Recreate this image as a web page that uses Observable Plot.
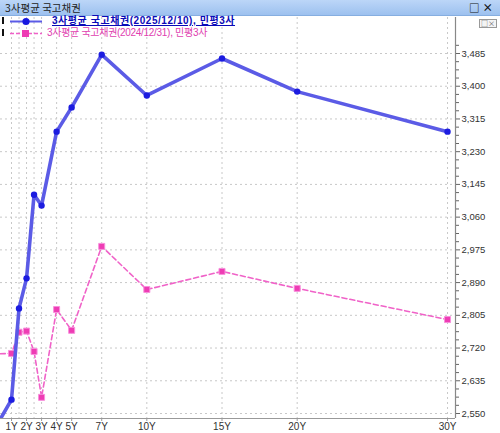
<!DOCTYPE html>
<html><head><meta charset="utf-8">
<script src="https://cdn.jsdelivr.net/npm/d3@7"></script>
<script src="https://cdn.jsdelivr.net/npm/@observablehq/plot@0.6"></script>
<style>
html,body{margin:0;padding:0;background:#fff;}
body{width:500px;height:433px;overflow:hidden;position:relative;font-family:"Noto Sans CJK KR","Noto Sans",sans-serif;}
#bar{position:absolute;left:0;top:0;width:500px;height:15px;background:linear-gradient(#bcd6f8,#9dc1ef);border-bottom:1px solid #86aee0;font-size:10.5px;line-height:15px;color:#222;overflow:hidden;}
#bar .t{position:absolute;left:5px;top:0;}
#bar .ic{position:absolute;right:4px;top:0;font-size:10.5px;line-height:15px;font-weight:bold;color:#111;letter-spacing:3px;}
#chart{position:absolute;left:0;top:17px;}
.leg{position:absolute;left:0;height:10px;font-size:10px;line-height:10px;white-space:nowrap;font-family:"Liberation Sans","Noto Sans CJK KR",sans-serif;}
.leg .b{position:absolute;left:2px;top:1px;width:2px;height:7px;background:#111;}
.leg svg{position:absolute;left:8px;top:-0.5px;}
.leg .tx{position:absolute;top:0;line-height:10px;height:10px;}
#mini{position:absolute;right:3px;top:19px;font-size:7px;line-height:7px;color:#555;border:1px solid #999;padding:0 1px;background:#f4f4f4;}
</style></head>
<body>
<div id="bar"><span class="t">3사평균 국고채권</span><span class="ic">□×</span></div>
<div id="chart"></div>
<div id="mini">□×</div>
<div class="leg" style="top:16px">
  <span class="b"></span>
  <svg width="36" height="11"><line x1="2" y1="5.5" x2="34" y2="5.5" stroke="#5b5be6" stroke-width="2"/><circle cx="18" cy="5.5" r="3.6" fill="#1818e0"/></svg>
  <span class="tx" style="left:52px;color:#0a0ab8;font-weight:bold;text-decoration:underline;letter-spacing:0.55px;">3사평균 국고채권(2025/12/10), 민평3사</span>
</div>
<div class="leg" style="top:28px">
  <span class="b"></span>
  <svg width="36" height="11"><line x1="2" y1="5.5" x2="34" y2="5.5" stroke="#f060c8" stroke-width="1.5" stroke-dasharray="4,2"/><rect x="14" y="2" width="7" height="7" fill="#ee3cb4"/></svg>
  <span class="tx" style="left:47px;color:#e040b0;letter-spacing:-0.3px;">3사평균 국고채권(2024/12/31), 민평3사</span>
</div>
<script>
// Tenors (years)
const tenors = [0.25, 1, 1.5, 2, 2.5, 3, 4, 5, 7, 10, 15, 20, 30];
// 3사평균 국고채권(2025/12/10)
const seriesNow = [2535, 2586, 2823, 2901, 3118, 3090, 3282, 3345, 3482, 3376, 3472, 3386, 3282];
// 3사평균 국고채권(2024/12/31)
const seriesPrev = [2705, 2706, 2761, 2764, 2711, 2592, 2820, 2766, 2984, 2872, 2919, 2875, 2794];
// Axis ticks
const xTickValues = [1, 2, 3, 4, 5, 7, 10, 15, 20, 30];
const xTickLabels = ["1Y", "2Y", "3Y", "4Y", "5Y", "7Y", "10Y", "15Y", "20Y", "30Y"];
const gridX = [1, 1.5, 2, 2.5, 3, 4, 5, 7, 10, 15, 20, 30];
const yTickValues = [2550, 2635, 2720, 2805, 2890, 2975, 3060, 3145, 3230, 3315, 3400, 3485];

const now = tenors.map((t, i) => ({t, v: seriesNow[i]}));
const prev = tenors.map((t, i) => ({t, v: seriesPrev[i]}));
const minorY = [];
for (let i = 0; i < yTickValues.length; i++) {
  for (let k = 1; k < 4; k++) minorY.push(yTickValues[i] - k * 85 / 4);
}
minorY.push(3485 + 85/4);

const xMin = 0.268, xMax = 30.53;
const labelMap = new Map(xTickValues.map((v, i) => [v, xTickLabels[i]]));

const plot = Plot.plot({
  width: 500,
  height: 416,
  marginLeft: 0,
  marginRight: 45,
  marginTop: 0,
  marginBottom: 15,
  style: {fontFamily: "'Liberation Sans', 'DejaVu Sans', sans-serif", fontSize: "9.5px", color: "#333", background: "#fff"},
  x: {type: "linear", domain: [xMin, xMax], range: [0, 455]},
  y: {domain: [2550, 3485], range: [396, 36]},
  marks: [
    Plot.ruleY(yTickValues, {stroke: "#c8c8c8", strokeDasharray: "2,3", strokeWidth: 1}),
    Plot.ruleX(gridX, {stroke: "#c8c8c8", strokeDasharray: "2,3", strokeWidth: 1}),
    // bottom baseline (frame bottom)
    Plot.ruleY([2550], {dy: 5, stroke: "#999"}),
    // right axis line
    Plot.ruleX([xMax], {stroke: "#888", strokeWidth: 1.2}),
    Plot.axisX(xTickValues, {anchor: "bottom", label: null, tickSize: 3, tickPadding: 1, stroke: "#999", tickFormat: d => labelMap.get(d), fill: "#333", fontSize: 10}),
    Plot.axisY(minorY.filter(v => v >= 2530 && v <= 3510), {anchor: "right", label: null, tickSize: 3, tickFormat: () => "", stroke: "#666"}),
    Plot.axisY(yTickValues, {anchor: "right", label: null, tickSize: 4, tickPadding: 2, stroke: "#666", tickFormat: d3.format(","), fill: "#333", fontSize: 9.5}),
    // previous curve (pink dashed)
    Plot.line(prev, {x: "t", y: "v", stroke: "#f062c8", strokeWidth: 1.6, strokeDasharray: "5,3", clip: true}),
    Plot.dot(prev.filter(d => d.t >= 1), {x: "t", y: "v", symbol: "square", r: 3.4, fill: "#ee3cb4", stroke: "#f890dc", strokeWidth: 1, clip: true}),
    // current curve (blue)
    Plot.line(now, {x: "t", y: "v", stroke: "#5b5be6", strokeWidth: 3.6, clip: true}),
    Plot.dot(now.filter(d => d.t >= 1), {x: "t", y: "v", r: 3.2, fill: "#1c1ce0", stroke: "none", clip: true})
  ]
});
document.getElementById("chart").appendChild(plot);
</script>
</body></html>
